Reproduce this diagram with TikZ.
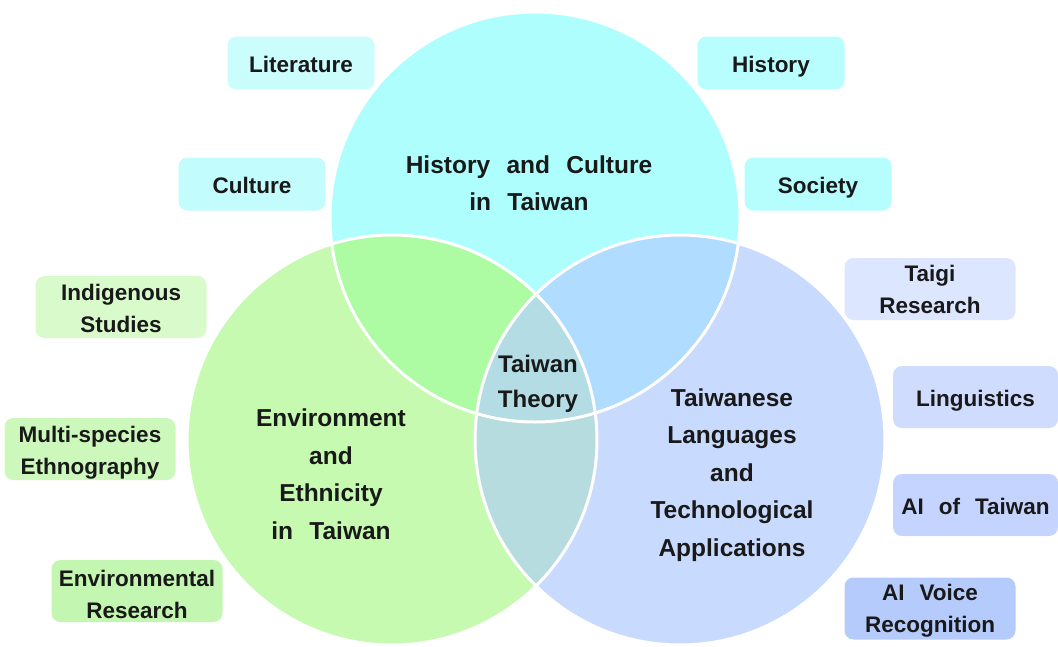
\documentclass[tikz,border=0pt]{standalone}
\usepackage{fontspec}
\setmainfont[WordSpace=2.4]{Liberation Sans}

\definecolor{cTop}{HTML}{AFFEFE}
\definecolor{cLeft}{HTML}{C6FAB0}
\definecolor{cRight}{HTML}{C9DAFF}
\definecolor{cTL}{HTML}{ADFBA3}
\definecolor{cTR}{HTML}{B0DCFF}
\definecolor{cLR}{HTML}{B6DCDF}
\definecolor{cMid}{HTML}{B4DCE4}
% tag colours
\definecolor{tLit}{HTML}{CCFDFD}
\definecolor{tCul}{HTML}{C3FCFC}
\definecolor{tHis}{HTML}{B9FEFE}
\definecolor{tSoc}{HTML}{B6FDFD}
\definecolor{tInd}{HTML}{D9FBCB}
\definecolor{tMul}{HTML}{CCF8BC}
\definecolor{tEnv}{HTML}{C3F6B0}
\definecolor{tTai}{HTML}{DCE6FF}
\definecolor{tLin}{HTML}{D0DCFE}
\definecolor{tAit}{HTML}{C4D4FE}
\definecolor{tAiv}{HTML}{B5CBFC}

\tikzset{
  tag/.style={rounded corners=9pt, inner sep=0pt, align=center,
    font=\bfseries\fontsize{22.5}{32}\selectfont, text=black!90},
  oneline/.style={text height=18pt, text depth=0pt},
  tagtop/.style={tag, oneline, minimum width=147pt, minimum height=53pt},
  tagside/.style={tag, text height=50pt, text depth=0pt,
    minimum width=171pt, minimum height=62pt},
  tagedge/.style={tag, oneline, minimum width=165pt, minimum height=62pt},
  title/.style={align=center, text=black!90,
    font=\bfseries\fontsize{24.5}{37.5}\selectfont},
  ring/.style={draw=white, line width=3pt}
}

\begin{document}
\begin{tikzpicture}[x=1pt,y=-1pt]
\useasboundingbox (0,0) rectangle (1058,646);

\coordinate (ct) at (535,217);
\coordinate (cl) at (392,440);
\coordinate (cr) at (680,440);

% circles
\fill[cTop] (ct) circle (205pt);
\fill[cLeft] (cl) circle (205pt);
\fill[cRight] (cr) circle (205pt);

% overlaps
\begin{scope}
\clip (ct) circle (205pt);
\fill[cTL] (cl) circle (205pt);
\fill[cTR] (cr) circle (205pt);
\end{scope}
\begin{scope}
\clip (cl) circle (205pt);
\fill[cLR] (cr) circle (205pt);
\clip (cr) circle (205pt);
\fill[cMid] (ct) circle (205pt);
\end{scope}

\draw[ring] (ct) circle (205pt) (cl) circle (205pt) (cr) circle (205pt);

% titles
\node[title] (top) at (529,183) {History and Culture\\in Taiwan};
\node[title] (left) at (331,474) {Environment\\and\\Ethnicity\\in Taiwan};
\node[title] (right) at (732,475) {Taiwanese\\Languages\\and\\Technological\\Applications};
\node[title, font=\bfseries\fontsize{24}{35}\selectfont] (mid) at (538,384) {Taiwan\\Theory};

% top tags
\node[tagtop, fill=tLit] (lit) at (301,63) {Literature};
\node[tagtop, fill=tCul] (cul) at (252,184) {Culture};
\node[tagtop, fill=tHis] (his) at (771,63) {History};
\node[tagtop, fill=tSoc] (soc) at (818,184) {Society};

% left tags
\node[tagside, fill=tInd] (ind) at (121,307) {Indigenous\\Studies};
\node[tagside, fill=tMul] (mul) at (90,449) {Multi-species\\Ethnography};
\node[tagside, fill=tEnv, text height=54pt] (env) at (137,591) {Environmental\\Research};

% right tags
\node[tagside, fill=tTai, text height=48pt] (tai) at (930,289) {Taigi\\Research};
\node[tagedge, fill=tLin] (lin) at (975.5,397) {Linguistics};
\node[tagedge, fill=tAit] (ait) at (975.5,505) {AI of Taiwan};
\node[tagside, fill=tAiv, text height=48pt] (aiv) at (930,608.5) {AI Voice\\Recognition};
\end{tikzpicture}
\end{document}
